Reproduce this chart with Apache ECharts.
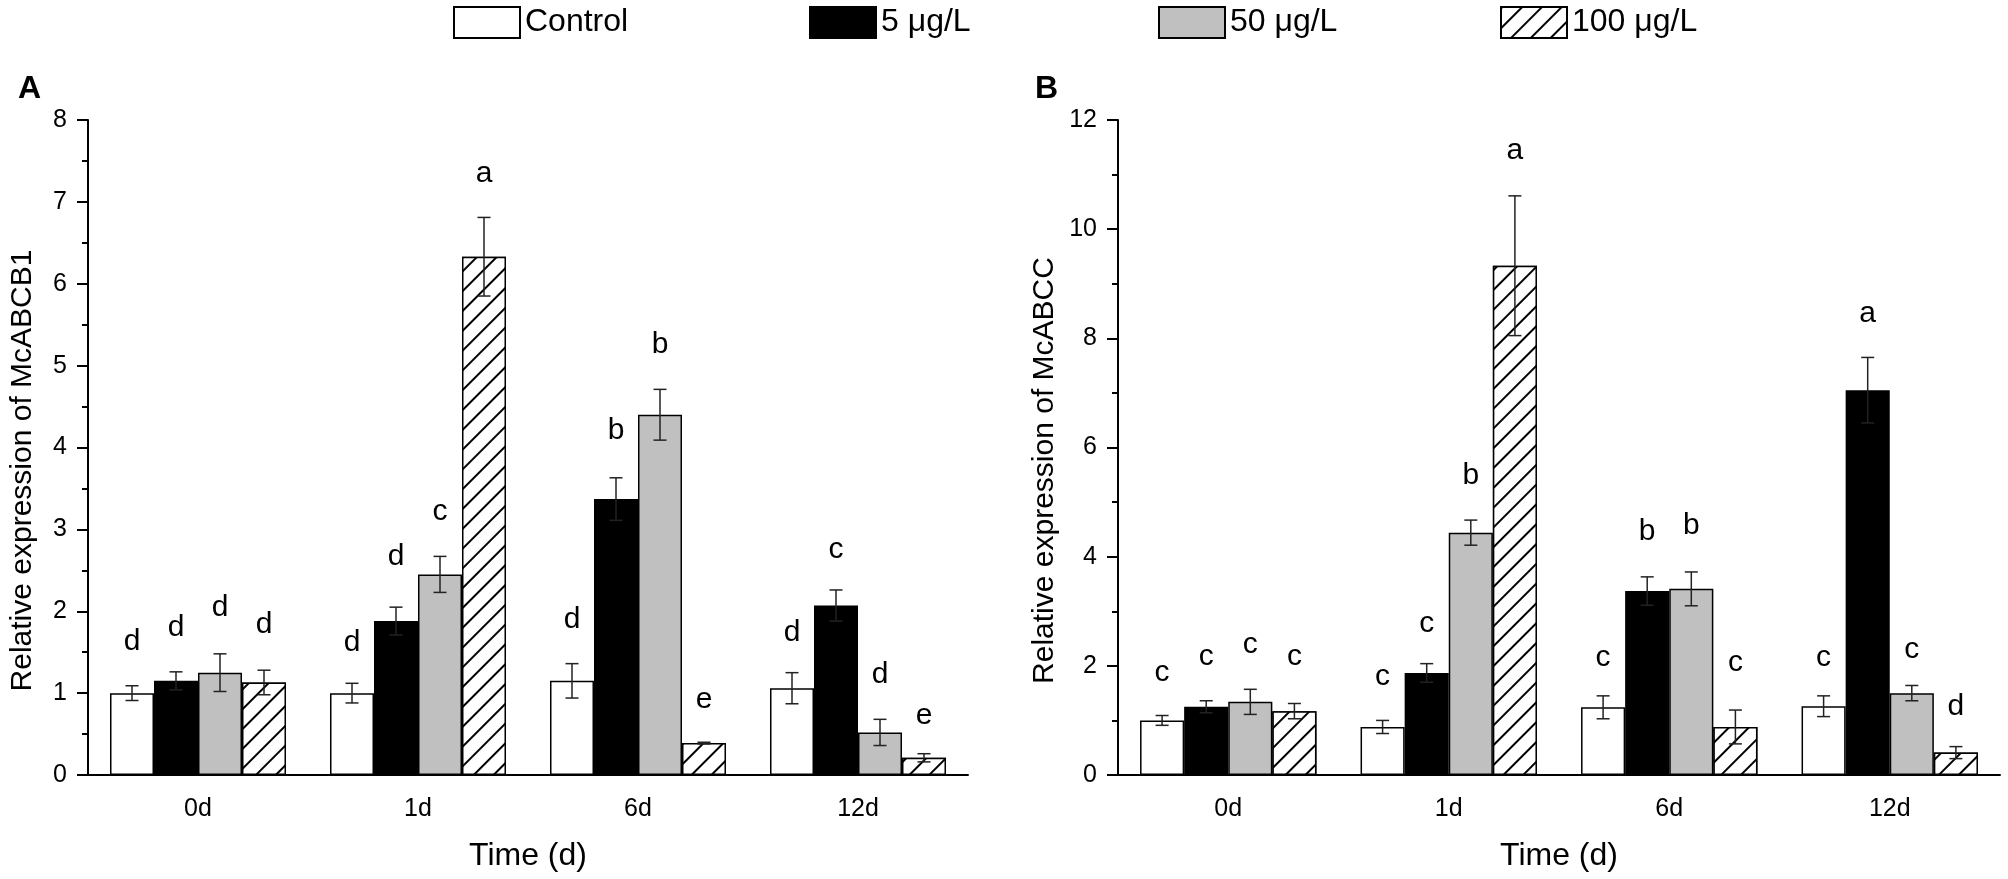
<!DOCTYPE html>
<html><head><meta charset="utf-8">
<script src="https://cdn.jsdelivr.net/npm/echarts@6/dist/echarts.min.js"></script>
<style>html,body{margin:0;padding:0;background:#fff}#c{width:2008px;height:879px}</style>
</head><body><div id="c"></div>
<script>
const categories = ['0d', '1d', '6d', '12d'];
const seriesNames = ['Control', '5 μg/L', '50 μg/L', '100 μg/L'];

// Panel A: McABCB1
const aControl = [1.00, 1.00, 1.15, 1.06];
const a5 = [1.15, 1.88, 3.37, 2.07];
const a50 = [1.25, 2.45, 4.40, 0.52];
const a100 = [1.13, 6.33, 0.39, 0.21];
const aControlErr = [0.09, 0.12, 0.21, 0.19];
const a5Err = [0.11, 0.17, 0.26, 0.19];
const a50Err = [0.23, 0.22, 0.31, 0.16];
const a100Err = [0.15, 0.48, 0.01, 0.05];
const aControlLetters = ['d', 'd', 'd', 'd'];
const a5Letters = ['d', 'd', 'b', 'c'];
const a50Letters = ['d', 'c', 'b', 'd'];
const a100Letters = ['d', 'a', 'e', 'e'];
const aControlLetterY = [1.63, 1.61, 1.90, 1.74];
const a5LetterY = [1.80, 2.67, 4.21, 2.75];
const a50LetterY = [2.04, 3.22, 5.26, 1.23];
const a100LetterY = [1.84, 7.34, 0.92, 0.72];

// Panel B: McABCC
const bControl = [1.00, 0.88, 1.24, 1.26];
const b5 = [1.25, 1.87, 3.37, 7.05];
const b50 = [1.34, 4.44, 3.41, 1.50];
const b100 = [1.17, 9.33, 0.88, 0.41];
const bControlErr = [0.09, 0.12, 0.21, 0.19];
const b5Err = [0.11, 0.17, 0.26, 0.60];
const b50Err = [0.23, 0.23, 0.31, 0.14];
const b100Err = [0.14, 1.28, 0.31, 0.11];
const bControlLetters = ['c', 'c', 'c', 'c'];
const b5Letters = ['c', 'c', 'b', 'a'];
const b50Letters = ['c', 'b', 'b', 'c'];
const b100Letters = ['c', 'a', 'c', 'd'];
const bControlLetterY = [1.87, 1.80, 2.14, 2.15];
const b5LetterY = [2.17, 2.77, 4.46, 8.45];
const b50LetterY = [2.38, 5.48, 4.56, 2.30];
const b100LetterY = [2.17, 11.43, 2.05, 1.25];

const yTicksA = [0, 8, 1];
const yTicksB = [0, 12, 2];

const FONT = 'Liberation Sans, Arial, sans-serif';
const fills = ['#ffffff', '#000000', '#c0c0c0', '#ffffff'];
const hatch = {symbol: 'rect', symbolSize: 1, color: '#000', backgroundColor: '#fff',
  dashArrayX: [1, 0], dashArrayY: [1.3, 12], rotation: -Math.PI / 4};

function barSeries(panel, idx, vals) {
  const s = {
    name: seriesNames[idx], type: 'bar', xAxisIndex: panel * 2, yAxisIndex: panel,
    data: vals, barGap: '0%', barCategoryGap: '20%',
    itemStyle: {color: fills[idx], borderColor: '#000', borderWidth: 1.5},
    emphasis: {disabled: true}, z: 2
  };
  if (idx === 3) s.itemStyle.decal = hatch;
  return s;
}
function errSeries(panel, idx, vals, errs) {
  return {
    type: 'custom', xAxisIndex: panel * 2, yAxisIndex: panel, z: 5, silent: true,
    data: vals.map((v, i) => [i, v - errs[i], v + errs[i]]),
    renderItem(params, api) {
      const c = api.value(0);
      const lo = api.coord([c, api.value(1)]);
      const hi = api.coord([c, api.value(2)]);
      const bw = api.size([1, 0])[0] * 0.8 / 4;
      const x = lo[0] + (idx - 1.5) * bw;
      const cap = 6.5;
      const st = {stroke: '#222', lineWidth: 1.5};
      return {type: 'group', children: [
        {type: 'line', shape: {x1: x, y1: lo[1], x2: x, y2: hi[1]}, style: st},
        {type: 'line', shape: {x1: x - cap, y1: lo[1], x2: x + cap, y2: lo[1]}, style: st},
        {type: 'line', shape: {x1: x - cap, y1: hi[1], x2: x + cap, y2: hi[1]}, style: st}
      ]};
    }
  };
}
function letterSeries(panel, idx, letters, ys) {
  return {
    type: 'custom', xAxisIndex: panel * 2, yAxisIndex: panel, z: 6, silent: true,
    data: ys.map((y, i) => [i, y, letters[i]]),
    renderItem(params, api) {
      const i = params.dataIndex;
      const p = api.coord([api.value(0), api.value(1)]);
      const bw = api.size([1, 0])[0] * 0.8 / 4;
      return {type: 'text', x: p[0] + (idx - 1.5) * bw, y: p[1],
        style: {text: letters[i], fill: '#000', font: '30px ' + FONT,
          align: 'center', verticalAlign: 'middle'}};
    }
  };
}

const grids = [
  {left: 88, top: 120, width: 880, height: 655},
  {left: 1118, top: 120, width: 882, height: 655}
];
const xAxes = [];
const yAxes = [];
const yNames = ['Relative expression of McABCB1', 'Relative expression of McABCC'];
const yGaps = [50, 58];
[yTicksA, yTicksB].forEach((t, g) => {
  xAxes.push({
    type: 'category', gridIndex: g, data: categories,
    name: 'Time (d)', nameLocation: 'middle', nameGap: 65,
    nameTextStyle: {fontSize: 32, fontFamily: FONT, color: '#000'},
    axisLine: {lineStyle: {color: '#000', width: 2}},
    axisTick: {alignWithLabel: true, length: 13, lineStyle: {color: '#000', width: 2}},
    axisLabel: {fontSize: 25, fontFamily: FONT, color: '#000', margin: 22}
  });
  xAxes.push({
    type: 'category', gridIndex: g, data: categories, position: 'bottom',
    axisLine: {show: false},
    axisTick: {length: 7, lineStyle: {color: '#000', width: 2}},
    axisLabel: {show: false}
  });
  yAxes.push({
    type: 'value', gridIndex: g, min: t[0], max: t[1], interval: t[2],
    name: yNames[g], nameLocation: 'middle', nameGap: yGaps[g],
    nameTextStyle: {fontSize: 30, fontFamily: FONT, color: '#000', padding: [0, 46, 0, 0]},
    axisLine: {show: true, lineStyle: {color: '#000', width: 2}},
    axisTick: {show: true, length: 11, lineStyle: {color: '#000', width: 2}},
    minorTick: {show: true, splitNumber: 2, length: 6, lineStyle: {color: '#000', width: 2}},
    splitLine: {show: false},
    axisLabel: {fontSize: 25, fontFamily: FONT, color: '#000', margin: 21}
  });
});

const panels = [
  {vals: [aControl, a5, a50, a100], errs: [aControlErr, a5Err, a50Err, a100Err],
   letters: [aControlLetters, a5Letters, a50Letters, a100Letters],
   ly: [aControlLetterY, a5LetterY, a50LetterY, a100LetterY]},
  {vals: [bControl, b5, b50, b100], errs: [bControlErr, b5Err, b50Err, b100Err],
   letters: [bControlLetters, b5Letters, b50Letters, b100Letters],
   ly: [bControlLetterY, b5LetterY, b50LetterY, b100LetterY]}
];
const series = [];
panels.forEach((p, g) => {
  p.vals.forEach((v, i) => series.push(barSeries(g, i, v)));
  p.vals.forEach((v, i) => series.push(errSeries(g, i, v, p.errs[i])));
  p.letters.forEach((l, i) => series.push(letterSeries(g, i, l, p.ly[i])));
});

const legendLefts = [453, 809, 1158, 1500];
const legends = seriesNames.map((n, i) => ({
  data: [n], top: 6, left: legendLefts[i], padding: 0,
  itemWidth: 66, itemHeight: 31, icon: 'rect', selectedMode: false,
  textStyle: {fontSize: 32, fontFamily: FONT, color: '#000'}
}));

const chart = echarts.init(document.getElementById('c'), null, {renderer: 'canvas'});
chart.setOption({
  animation: false,
  backgroundColor: '#fff',
  legend: legends,
  graphic: [
    {type: 'text', left: 18, top: 73, style: {text: 'A', font: 'bold 32px ' + FONT, fill: '#000'}},
    {type: 'text', left: 1035, top: 73, style: {text: 'B', font: 'bold 32px ' + FONT, fill: '#000'}}
  ],
  grid: grids,
  xAxis: xAxes,
  yAxis: yAxes,
  series: series
});
</script>
</body></html>
